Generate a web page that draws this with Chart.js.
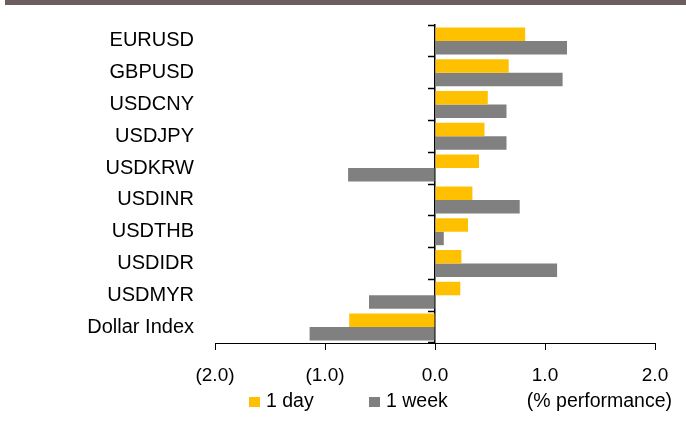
<!DOCTYPE html>
<html>
<head>
<meta charset="utf-8">
<script src="https://cdn.jsdelivr.net/npm/chart.js@4/dist/chart.umd.min.js"></script>
<style>
  html, body { margin: 0; padding: 0; background: #fff; }
  #wrap { position: relative; width: 686px; height: 425px; overflow: hidden; }
  #topbar { position: absolute; left: 5px; top: 0; width: 681px; height: 5px; background: #6D5E5E; }
  canvas { position: absolute; left: 0; top: 0; }
</style>
</head>
<body>
<div id="wrap">
  <canvas id="c" width="686" height="425"></canvas>
  <div id="topbar"></div>
</div>
<script>
const categories = ['EURUSD', 'GBPUSD', 'USDCNY', 'USDJPY', 'USDKRW', 'USDINR', 'USDTHB', 'USDIDR', 'USDMYR', 'Dollar Index'];
const oneDay  = [0.82, 0.67, 0.48, 0.45, 0.40, 0.34, 0.30, 0.24, 0.23, -0.78];
const oneWeek = [1.20, 1.16, 0.65, 0.65, -0.79, 0.77, 0.08, 1.11, -0.60, -1.14];
const seriesNames = ['1 day', '1 week'];
const seriesColors = ['#FFC000', '#808080'];
const xMin = -2, xMax = 2, xStep = 1;
const unitsNote = '(% performance)';

const FONT = "'Liberation Sans', Arial, sans-serif";

const legendPlugin = {
  id: 'customLegend',
  afterDraw(chart) {
    const ctx = chart.ctx;
    ctx.save();
    ctx.font = '19.5px ' + FONT;
    ctx.textBaseline = 'middle';
    ctx.fillStyle = '#000';
    const y = 402;
    const items = [
      { box: 249, text: 266, label: seriesNames[0], color: seriesColors[0] },
      { box: 369, text: 386, label: seriesNames[1], color: seriesColors[1] }
    ];
    items.forEach(it => {
      ctx.fillStyle = it.color;
      ctx.fillRect(it.box, y - 5, 11, 10);
      ctx.fillStyle = '#000';
      ctx.textAlign = 'left';
      ctx.fillText(it.label, it.text, y);
    });
    ctx.textAlign = 'right';
    ctx.fillText(unitsNote, 672, y);
    ctx.restore();
  }
};

new Chart(document.getElementById('c'), {
  type: 'bar',
  data: {
    labels: categories,
    datasets: [
      { label: seriesNames[0], data: oneDay, backgroundColor: seriesColors[0], borderWidth: 0, categoryPercentage: 0.85, barPercentage: 1.0 },
      { label: seriesNames[1], data: oneWeek, backgroundColor: seriesColors[1], borderWidth: 0, categoryPercentage: 0.85, barPercentage: 1.0 }
    ]
  },
  options: {
    indexAxis: 'y',
    responsive: false,
    animation: false,
    layout: { padding: { top: 25, right: 31, left: 0, bottom: 0 } },
    plugins: { legend: { display: false }, tooltip: { enabled: false } },
    scales: {
      x: {
        type: 'linear',
        min: xMin, max: xMax,
        afterFit: s => { s.height = 82; },
        ticks: {
          stepSize: xStep,
          color: '#000',
          font: { family: FONT, size: 19 },
          padding: 14,
          maxRotation: 0,
          callback: v => v < 0 ? '(' + Math.abs(v).toFixed(1) + ')' : v.toFixed(1)
        },
        grid: { drawOnChartArea: false, color: '#000', tickLength: 7, tickWidth: 1 },
        border: { display: true, color: '#000', width: 1 }
      },
      y: {
        type: 'category',
        position: 'left',
        afterFit: s => { s.width = 215; s.paddingTop = 0; s.paddingBottom = 0; },
        ticks: { color: '#000', font: { family: FONT, size: 20 }, padding: 21 },
        grid: { display: false, drawTicks: false },
        border: { display: false }
      },
      y2: {
        type: 'category',
        position: { x: 0 },
        z: 1,
        afterFit: s => { s.paddingTop = 0; s.paddingBottom = 0; },
        ticks: { display: false },
        grid: { drawOnChartArea: false, offset: true, color: '#000', tickLength: 6, tickWidth: 1.5 },
        border: { display: true, color: '#000', width: 1.5 }
      }
    }
  },
  plugins: [legendPlugin]
});
</script>
</body>
</html>
